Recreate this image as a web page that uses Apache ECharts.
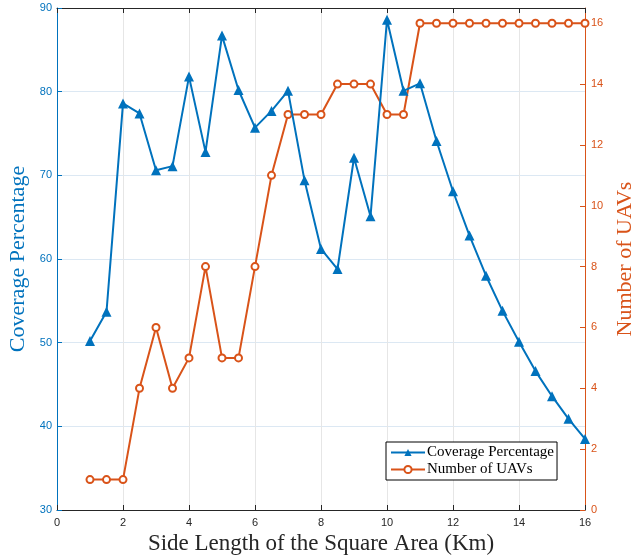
<!DOCTYPE html>
<html>
<head>
<meta charset="utf-8">
<script src="https://cdn.jsdelivr.net/npm/echarts@6/dist/echarts.min.js"></script>
<style>html,body{margin:0;padding:0;background:#fff;}#c{width:639px;height:557px;}</style>
</head>
<body>
<div id="c"></div>
<script>
const sideLength = [1,1.5,2,2.5,3,3.5,4,4.5,5,5.5,6,6.5,7,7.5,8,8.5,9,9.5,10,10.5,11,11.5,12,12.5,13,13.5,14,14.5,15,15.5,16];
const coverage = [50.2,53.7,78.6,77.4,70.6,71.1,81.8,72.8,86.7,80.2,75.7,77.7,80.1,69.4,61.2,58.8,72.1,65.1,88.6,80.1,81.0,74.1,68.1,62.8,58.0,53.8,50.1,46.6,43.6,40.9,38.5];
const uavs = [1,1,1,4,6,4,5,8,5,5,8,11,13,13,13,14,14,14,13,13,16,16,16,16,16,16,16,16,16,16,16];
const seriesNames = ['Coverage Percentage','Number of UAVs'];
const xLabel = 'Side Length of the Square Area (Km)';

const BLUE = '#0072BD', ORANGE = '#D95319', DARK = '#262626';
const serif = '"Liberation Serif", "DejaVu Serif", serif';
const sans = '"Liberation Sans", Arial, sans-serif';

const chart = echarts.init(document.getElementById('c'), null, {renderer:'canvas'});
chart.setOption({
  animation: false,
  backgroundColor: '#fff',
  grid: {left: 57, right: 54, top: 8, bottom: 47, containLabel: false, outerBoundsMode: 'none'},
  legend: {
    left: 386, top: 442, orient: 'vertical',
    backgroundColor: '#fff', borderColor: '#000', borderWidth: 1,
    padding: [3, 3, 3, 4], itemGap: 2, itemWidth: 34, itemHeight: 9,
    textStyle: {fontFamily: serif, fontSize: 15, color: '#000', padding: [0,0,0,-3]},
    data: seriesNames
  },
  xAxis: [{
    type: 'value', min: 0, max: 16, interval: 2,
    name: xLabel, nameLocation: 'middle', nameGap: 19,
    nameTextStyle: {fontFamily: serif, fontSize: 23, color: DARK},
    axisLine: {show: true, lineStyle: {color: DARK, width: 1}},
    axisTick: {show: true, inside: true, length: 5, lineStyle: {color: DARK}},
    axisLabel: {fontFamily: sans, fontSize: 11, color: DARK, margin: 7},
    splitLine: {show: true, lineStyle: {color: '#e6e6e6', width: 1}}
  }, {
    type: 'value', min: 0, max: 16, interval: 2, position: 'top',
    axisLine: {show: true, onZero: false, lineStyle: {color: DARK, width: 1}},
    axisTick: {show: true, inside: true, length: 5, lineStyle: {color: DARK}},
    axisLabel: {show: false}, splitLine: {show: false}
  }],
  yAxis: [{
    type: 'value', min: 30, max: 90, interval: 10, position: 'left',
    name: 'Coverage Percentage', nameLocation: 'middle', nameGap: 23, nameRotate: 90,
    nameTextStyle: {fontFamily: serif, fontSize: 22, color: BLUE},
    axisLine: {show: true, onZero: false, lineStyle: {color: BLUE, width: 1}},
    axisTick: {show: true, inside: true, length: 5, lineStyle: {color: BLUE}},
    axisLabel: {fontFamily: sans, fontSize: 11, color: BLUE, margin: 5},
    splitLine: {show: true, lineStyle: {color: '#dce8f3', width: 1}}
  }, {
    type: 'value', min: 0, max: 16.5, interval: 2, position: 'right',
    name: 'Number of UAVs', nameLocation: 'middle', nameGap: 21, nameRotate: 90,
    nameTextStyle: {fontFamily: serif, fontSize: 22, color: ORANGE},
    axisLine: {show: true, onZero: false, lineStyle: {color: ORANGE, width: 1}},
    axisTick: {show: true, inside: true, length: 5, lineStyle: {color: ORANGE}},
    axisLabel: {fontFamily: sans, fontSize: 11, color: ORANGE, margin: 6, showMaxLabel: false,
      formatter: v => (Number.isInteger(v) ? String(v) : '')},
    splitLine: {show: false}
  }],
  series: [{
    name: seriesNames[0], type: 'line', xAxisIndex: 0, yAxisIndex: 0,
    data: sideLength.map((x, i) => [x, coverage[i]]),
    symbol: 'triangle', symbolSize: 10, showAllSymbol: true,
    lineStyle: {color: BLUE, width: 2}, itemStyle: {color: BLUE},
    z: 3
  }, {
    name: seriesNames[1], type: 'line', xAxisIndex: 0, yAxisIndex: 1,
    data: sideLength.map((x, i) => [x, uavs[i]]),
    symbol: 'emptyCircle', symbolSize: 7, showAllSymbol: true,
    lineStyle: {color: ORANGE, width: 2}, itemStyle: {color: ORANGE, borderWidth: 2},
    z: 2
  }]
});
</script>
</body>
</html>
